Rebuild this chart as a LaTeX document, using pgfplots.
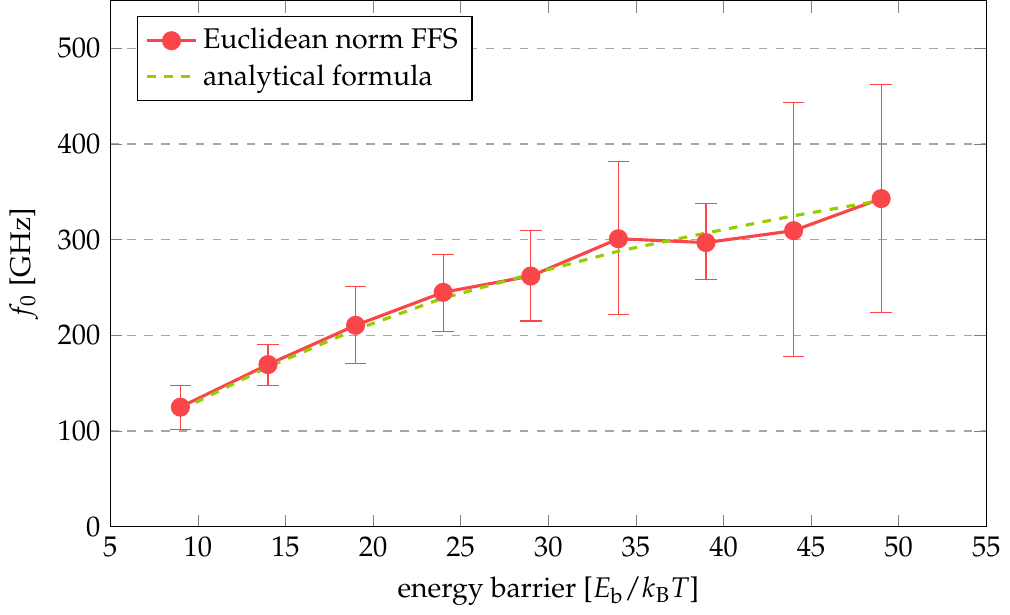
\documentclass[border=0pt]{standalone}
\usepackage[T1]{fontenc}
\usepackage{mathpazo}
\usepackage{pgfplots}
\pgfplotsset{compat=1.18}
\usepackage{pgfplotstable}

\definecolor{ffsred}{RGB}{250,70,72}
\definecolor{anagreen}{RGB}{150,204,0}

% x, f0, upper error, lower error
\pgfplotstableread{
x   y     ep     em
9   125   23     23
14  169.5 21     21.5
19  210.5 41     40
24  245   40     41
29  262   47.5   47
34  301   81     79
39  297   41     39
44  309.5 133.5  131.5
49  343   119    119
}\ffsdata

\pgfplotstableread{
x   y
9   122
14  167
19  206
24  239
29  264
34  288
39  307
44  325
49  341
}\anadata

\begin{document}
\begin{tikzpicture}
\begin{axis}[
    scale only axis,
    width=308pt,
    height=185pt,
    xmin=5, xmax=55,
    ymin=0, ymax=550,
    xtick={5,10,...,55},
    ytick={0,100,...,500},
    ymajorgrids,
    major grid style={dashed, gray!70},
    xlabel={energy barrier [$E_\mathrm{b}/k_\mathrm{B}T$]},
    ylabel={$f_0$ [GHz]},
    legend pos=north west,
    legend cell align=left,
    legend style={draw=black, fill=white},
]
\addplot[
    ffsred, line width=1.1pt,
    mark=*, mark size=2.8pt,
    error bars/.cd,
      y dir=both, y explicit,
      error bar style={line width=0.4pt, ffsred, solid},
      error mark options={ffsred, rotate=90, mark size=3.8pt, line width=0.4pt},
] table[x=x, y=y, y error plus=ep, y error minus=em] {\ffsdata};
\addlegendentry{Euclidean norm FFS}
\addplot[anagreen, line width=1.1pt, dashed] table[x=x, y=y] {\anadata};
\addlegendentry{analytical formula}
\end{axis}
\end{tikzpicture}
\end{document}
